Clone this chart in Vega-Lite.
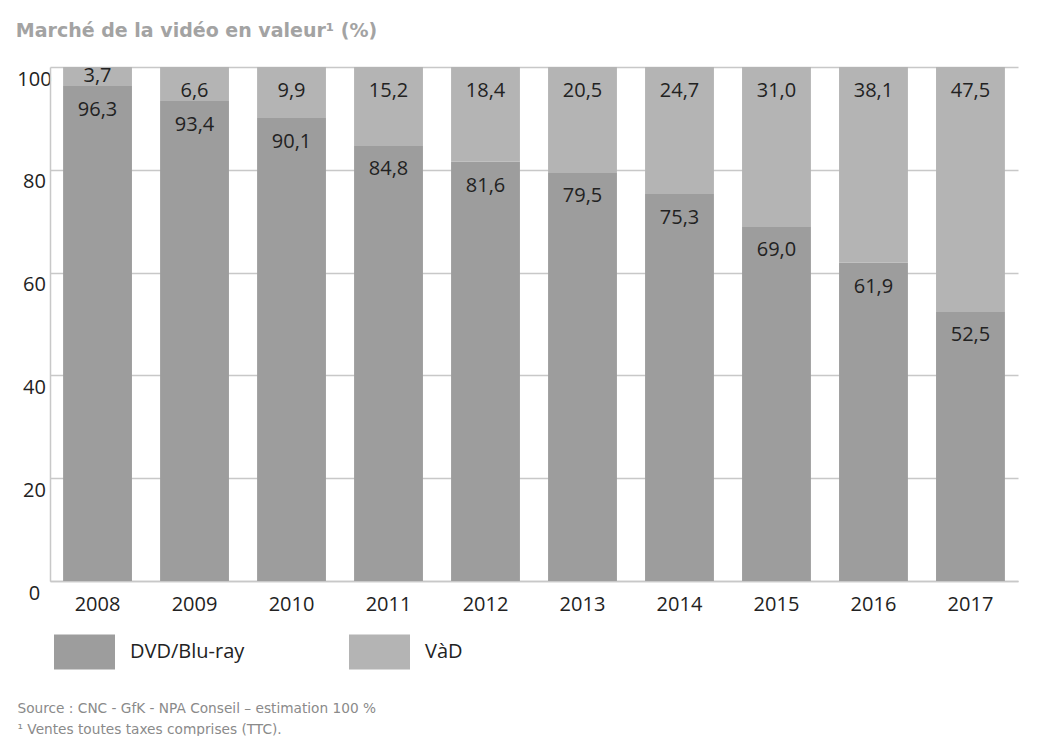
{
  "$schema": "https://vega.github.io/schema/vega-lite/v6.json",
  "width": 968,
  "height": 514,
  "autosize": "none",
  "padding": {"left": 50, "top": 67, "right": 33, "bottom": 155},
  "background": "white",
  "title": {
    "text": "Marché de la vidéo en valeur¹ (%)",
    "anchor": "start",
    "dx": -1,
    "offset": 25,
    "fontSize": 19,
    "font": "DejaVu Sans",
    "fontWeight": "bold",
    "color": "#a3a3a3"
  },
  "config": {
    "locale": {"number": {"decimal": ",", "thousands": " ", "grouping": [3], "currency": ["", " €"]}},
    "view": {"stroke": null},
    "font": "Open Sans"
  },
  "data": {
    "values": [
      {"year": "2008", "type": "DVD/Blu-ray", "value": 96.3},
      {"year": "2009", "type": "DVD/Blu-ray", "value": 93.4},
      {"year": "2010", "type": "DVD/Blu-ray", "value": 90.1},
      {"year": "2011", "type": "DVD/Blu-ray", "value": 84.8},
      {"year": "2012", "type": "DVD/Blu-ray", "value": 81.6},
      {"year": "2013", "type": "DVD/Blu-ray", "value": 79.5},
      {"year": "2014", "type": "DVD/Blu-ray", "value": 75.3},
      {"year": "2015", "type": "DVD/Blu-ray", "value": 69.0},
      {"year": "2016", "type": "DVD/Blu-ray", "value": 61.9},
      {"year": "2017", "type": "DVD/Blu-ray", "value": 52.5},
      {"year": "2008", "type": "VàD", "value": 3.7},
      {"year": "2009", "type": "VàD", "value": 6.6},
      {"year": "2010", "type": "VàD", "value": 9.9},
      {"year": "2011", "type": "VàD", "value": 15.2},
      {"year": "2012", "type": "VàD", "value": 18.4},
      {"year": "2013", "type": "VàD", "value": 20.5},
      {"year": "2014", "type": "VàD", "value": 24.7},
      {"year": "2015", "type": "VàD", "value": 31.0},
      {"year": "2016", "type": "VàD", "value": 38.1},
      {"year": "2017", "type": "VàD", "value": 47.5}
    ]
  },
  "encoding": {
    "x": {
      "field": "year",
      "type": "ordinal",
      "scale": {"paddingInner": 0.29, "paddingOuter": 0.135},
      "axis": {
        "labelAngle": 0,
        "labelFontSize": 20,
        "labelColor": "#222222",
        "labelFont": "Open Sans",
        "labelPadding": 13,
        "ticks": false,
        "domainColor": "#c8c8c8",
        "domainWidth": 1.5,
        "title": ["Source : CNC - GfK - NPA Conseil – estimation 100 %", "¹ Ventes toutes taxes comprises (TTC)."],
        "titleX": -33,
        "titleY": 131,
        "titleAlign": "left",
        "titleBaseline": "alphabetic",
        "titleFont": "DejaVu Sans",
        "titleFontSize": 13.7,
        "titleFontWeight": "normal",
        "titleColor": "#8a8a8a",
        "titleLineHeight": 21
      }
    }
  },
  "layer": [
    {
      "mark": {"type": "bar"},
      "encoding": {
        "y": {
          "field": "value",
          "type": "quantitative",
          "stack": "zero",
          "scale": {"domain": [0, 100], "nice": false},
          "axis": {
            "values": [0, 20, 40, 60, 80, 100],
            "title": null,
            "ticks": false,
            "labelAlign": "center",
            "labelBaseline": "middle",
            "labelPadding": 16,
            "labelOffset": 12,
            "labelFontSize": 20,
            "labelColor": "#222222",
            "labelFont": "Open Sans",
            "domainColor": "#c8c8c8",
            "domainWidth": 1.5,
            "grid": true,
            "gridColor": "#c8c8c8",
            "gridWidth": 1.5
          }
        },
        "color": {
          "field": "type",
          "type": "nominal",
          "scale": {"domain": ["DVD/Blu-ray", "VàD"], "range": ["#9d9d9d", "#b4b4b4"]},
          "legend": {
            "title": null,
            "orient": "none",
            "legendX": 4,
            "legendY": 554,
            "direction": "horizontal",
            "columnPadding": 104,
            "symbolType": "M-1,-0.574H1V0.574H-1Z",
            "symbolSize": 3721,
            "symbolStrokeWidth": 0,
            "labelFontSize": 20,
            "labelFont": "Open Sans",
            "labelColor": "#222222",
            "labelOffset": 15,
            "labelLimit": 300
          }
        },
        "order": {"field": "type", "sort": "ascending"}
      }
    },
    {
      "transform": [
        {"stack": "value", "groupby": ["year"], "sort": [{"field": "type", "order": "ascending"}], "as": ["v0", "v1"]},
        {"filter": "datum.value >= 5"}
      ],
      "mark": {"type": "text", "dy": 24, "fontSize": 20, "font": "Open Sans", "color": "#222222", "baseline": "middle"},
      "encoding": {
        "y": {"field": "v1", "type": "quantitative", "stack": null},
        "text": {"field": "value", "type": "quantitative", "format": ".1f"}
      }
    },
    {
      "transform": [
        {"stack": "value", "groupby": ["year"], "sort": [{"field": "type", "order": "ascending"}], "as": ["v0", "v1"]},
        {"filter": "datum.value < 5"}
      ],
      "mark": {"type": "text", "dy": 9, "fontSize": 20, "font": "Open Sans", "color": "#222222", "baseline": "middle"},
      "encoding": {
        "y": {"field": "v1", "type": "quantitative", "stack": null},
        "text": {"field": "value", "type": "quantitative", "format": ".1f"}
      }
    }
  ]
}
